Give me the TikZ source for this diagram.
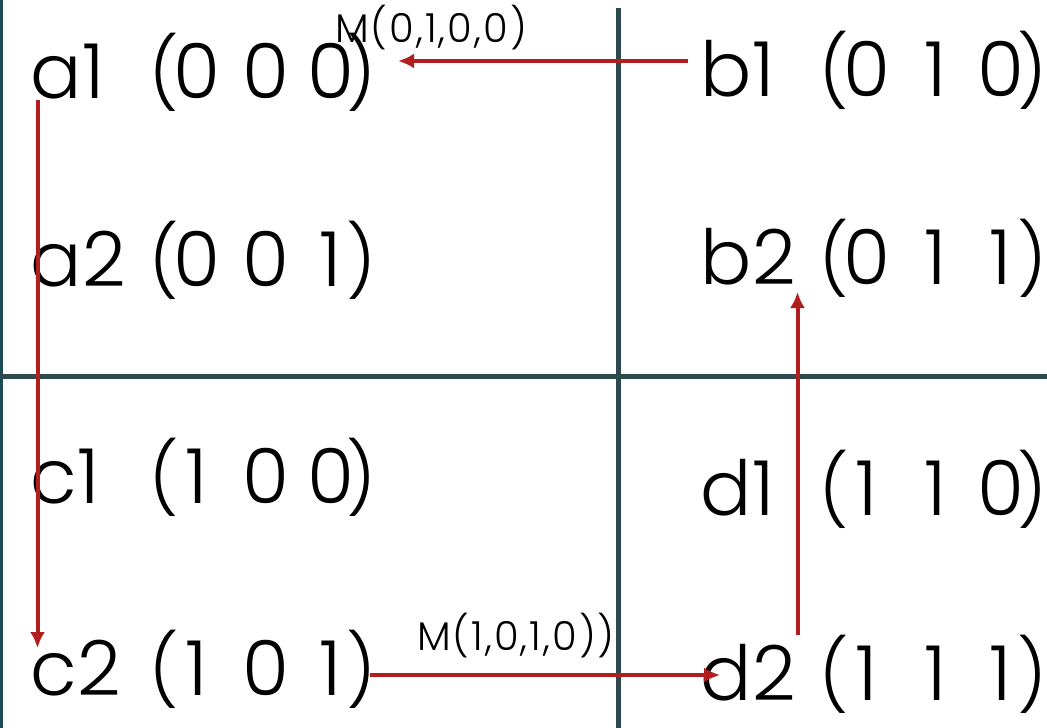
\documentclass[tikz,border=0pt]{standalone}
\usepackage{fontspec}
\setmainfont{Poppins Light}
\usetikzlibrary{arrows.meta}
\definecolor{arrowred}{HTML}{B21D1D}
\definecolor{divider}{HTML}{2F4A4E}
\definecolor{frame}{HTML}{1B4B57}
\newcommand\glyphat[2]{\rlap{\hspace{#1}\makebox[0pt][c]{#2}}}
\newcommand\parenfont{\fontsize{70}{72}\selectfont}
\newcommand\tuplab[4]{\rlap{#1}\glyphat{133pt}{\parenfont(}\glyphat{166pt}{#2}\glyphat{235pt}{#3}\glyphat{300pt}{#4}\glyphat{331pt}{\parenfont)}\hspace{340pt}}
\begin{document}
\begin{tikzpicture}[x=1pt,y=-1pt,
 lbl/.style={anchor=base west, inner sep=0pt, font=\fontsize{76}{80}\selectfont},
 mlbl/.style={anchor=base west, inner sep=0pt, font=\fontsize{40}{44}\selectfont\addfontfeature{LetterSpace=5}},
 conn/.style={draw=arrowred, line width=4pt, -{Latex[length=16pt,width=15pt]}},
 divline/.style={draw=divider, line width=5pt}]
\useasboundingbox[fill=white] (0,0) rectangle (1047,728);
\fill[frame] (0,0) rectangle (2.5,728);
\coordinate (vt) at (618,8);
\coordinate (vb) at (618,728);
\coordinate (hl) at (0,376);
\coordinate (hr) at (1047,376);
\draw[divline] (vt) -- (vb);
\draw[divline] (hl) -- (hr);
\node[lbl] (a1) at (30,98) {\tuplab{a1}{0}{0}{0}};
\node[lbl] (b1) at (700,96) {\tuplab{b1}{0}{1}{0}};
\node[lbl] (a2) at (30,286) {\tuplab{a2}{0}{0}{1}};
\node[lbl] (b2) at (700,284) {\tuplab{b2}{0}{1}{1}};
\node[lbl] (c1) at (30,503) {\tuplab{c1}{1}{0}{0}};
\node[lbl] (d1) at (700,515) {\tuplab{d1}{1}{1}{0}};
\node[lbl] (c2) at (30,695) {\tuplab{c2}{1}{0}{1}};
\node[lbl] (d2) at (700,700) {\tuplab{d2}{1}{1}{1}};
\node[mlbl] (m1) at (335,42) {M(0,1,0,0)};
\node[mlbl] (m2) at (417,650) {M(1,0,1,0))};
\coordinate (p1s) at (688,61);
\coordinate (p1e) at (398,61);
\coordinate (p2s) at (37.5,100);
\coordinate (p2e) at (37.5,648);
\coordinate (p3s) at (370,675);
\coordinate (p3e) at (720,675);
\coordinate (p4s) at (797.5,635);
\coordinate (p4e) at (797.5,292);
\draw[conn] (p1s) -- (p1e);
\draw[conn] (p2s) -- (p2e);
\draw[conn] (p3s) -- (p3e);
\draw[conn] (p4s) -- (p4e);
\end{tikzpicture}
\end{document}
